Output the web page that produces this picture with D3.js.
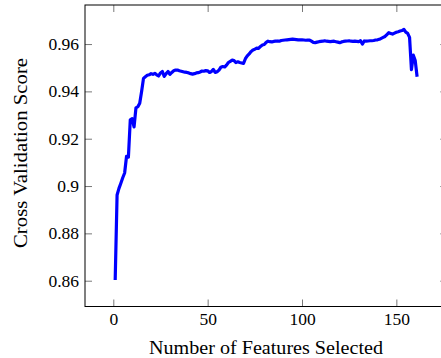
<!DOCTYPE html>
<html>
<head>
<meta charset="utf-8">
<script src="https://cdn.jsdelivr.net/npm/d3@7"></script>
<style>
  body { margin: 0; background: #fff; }
  svg { display: block; font-family: "Liberation Serif", "DejaVu Serif", serif; }
</style>
</head>
<body>
<script>
// number of features selected: 1..161
var scores = [
	0.8603, 0.8962, 0.8990, 0.9012, 0.9035, 0.9055, 0.9125, 0.9122, 0.9280, 0.9285,
	0.9250, 0.9330, 0.9335, 0.9350, 0.9400, 0.9455, 0.9462, 0.9468, 0.9470, 0.9475,
	0.9472, 0.9476, 0.9470, 0.9465, 0.9478, 0.9484, 0.9463, 0.9475, 0.9484, 0.9472,
	0.9480, 0.9487, 0.9490, 0.9490, 0.9487, 0.9485, 0.9483, 0.9481, 0.9480, 0.9478,
	0.9475, 0.9473, 0.9475, 0.9478, 0.9479, 0.9482, 0.9486, 0.9485, 0.9488, 0.9487,
	0.9480, 0.9484, 0.9493, 0.9480, 0.9483, 0.9490, 0.9502, 0.9505, 0.9503, 0.9511,
	0.9522, 0.9527, 0.9532, 0.9530, 0.9522, 0.9525, 0.9522, 0.9520, 0.9518, 0.9538,
	0.9550, 0.9558, 0.9568, 0.9575, 0.9578, 0.9583, 0.9582, 0.9590, 0.9596, 0.9598,
	0.9607, 0.9612, 0.9610, 0.9609, 0.9611, 0.9612, 0.9613, 0.9612, 0.9615, 0.9616,
	0.9617, 0.9618, 0.9619, 0.9620, 0.9621, 0.9620, 0.9619, 0.9618, 0.9618, 0.9618,
	0.9617, 0.9616, 0.9617, 0.9617, 0.9612, 0.9607, 0.9606, 0.9608, 0.9610, 0.9611,
	0.9612, 0.9614, 0.9612, 0.9611, 0.9610, 0.9611, 0.9612, 0.9610, 0.9608, 0.9606,
	0.9609, 0.9611, 0.9612, 0.9613, 0.9614, 0.9612, 0.9611, 0.9612, 0.9611, 0.9610,
	0.9614, 0.9600, 0.9613, 0.9612, 0.9613, 0.9614, 0.9614, 0.9615, 0.9617, 0.9618,
	0.9620, 0.9624, 0.9628, 0.9632, 0.9640, 0.9648, 0.9645, 0.9642, 0.9646, 0.9650,
	0.9652, 0.9655, 0.9657, 0.9662, 0.9650, 0.9645, 0.9628, 0.9492, 0.9553, 0.9530,
	0.9462
];
var xTicks = [0, 50, 100, 150];
var yTicks = [0.86, 0.88, 0.90, 0.92, 0.94, 0.96];
var xTitle = "Number of Features Selected";
var yTitle = "Cross Validation Score";

var w = 441, h = 358;
var plotLeft = 85, plotRight = 447.3, plotTop = 5, plotBottom = 306.5;
var serif = "'Liberation Serif', 'DejaVu Serif', serif";

var svg = d3.select("body").append("svg")
	.attr("width", w)
	.attr("height", h);

var x = d3.scaleLinear().domain([-15, 177]).range([plotLeft, plotRight]);
var y = d3.scaleLinear().domain([0.8491, 0.9765]).range([plotBottom, plotTop]);

var fmt = function(d){ return String(+d.toFixed(2)); };

// ticks on all four sides, pointing inward
function tickStyle(g){
	g.attr("font-family", serif).attr("font-size", 17.5);
	g.select(".domain").remove();
	g.selectAll(".tick line").attr("stroke", "#555").attr("stroke-width", 0.8);
	g.selectAll(".tick text").attr("fill", "#000");
}

svg.append("g")
	.attr("transform", "translate(0," + plotBottom + ")")
	.call(d3.axisBottom(x).tickValues(xTicks).tickSizeInner(-7).tickSizeOuter(0).tickPadding(6).tickFormat(d3.format("d")))
	.call(tickStyle);
svg.append("g")
	.attr("transform", "translate(0," + plotTop + ")")
	.call(d3.axisTop(x).tickValues(xTicks).tickSizeInner(-7).tickSizeOuter(0).tickFormat(""))
	.call(tickStyle);
svg.append("g")
	.attr("transform", "translate(" + plotLeft + ",0)")
	.call(d3.axisLeft(y).tickValues(yTicks).tickSizeInner(-7).tickSizeOuter(0).tickPadding(6).tickFormat(fmt))
	.call(tickStyle);
svg.append("g")
	.attr("transform", "translate(" + plotRight + ",0)")
	.call(d3.axisRight(y).tickValues(yTicks).tickSizeInner(-7).tickSizeOuter(0).tickFormat(""))
	.call(tickStyle);

// the data line
var line = d3.line()
	.x(function(d, i){ return x(i + 1); })
	.y(function(d){ return y(d); });

svg.append("path")
	.datum(scores)
	.attr("d", line)
	.attr("fill", "none")
	.attr("stroke", "#0000ff")
	.attr("stroke-width", 3.2)
	.attr("stroke-linejoin", "round");

// frame
svg.append("rect")
	.attr("x", plotLeft)
	.attr("y", plotTop)
	.attr("width", plotRight - plotLeft)
	.attr("height", plotBottom - plotTop)
	.attr("fill", "none")
	.attr("stroke", "#000")
	.attr("stroke-width", 1);

// axis titles
svg.append("text")
	.attr("x", 266)
	.attr("y", 354)
	.attr("text-anchor", "middle")
	.attr("textLength", 234)
	.attr("lengthAdjust", "spacingAndGlyphs")
	.style("font-size", "18px")
	.text(xTitle);

svg.append("text")
	.attr("transform", "translate(27,153) rotate(-90)")
	.attr("text-anchor", "middle")
	.attr("textLength", 190)
	.attr("lengthAdjust", "spacingAndGlyphs")
	.style("font-size", "18px")
	.text(yTitle);
</script>
</body>
</html>
